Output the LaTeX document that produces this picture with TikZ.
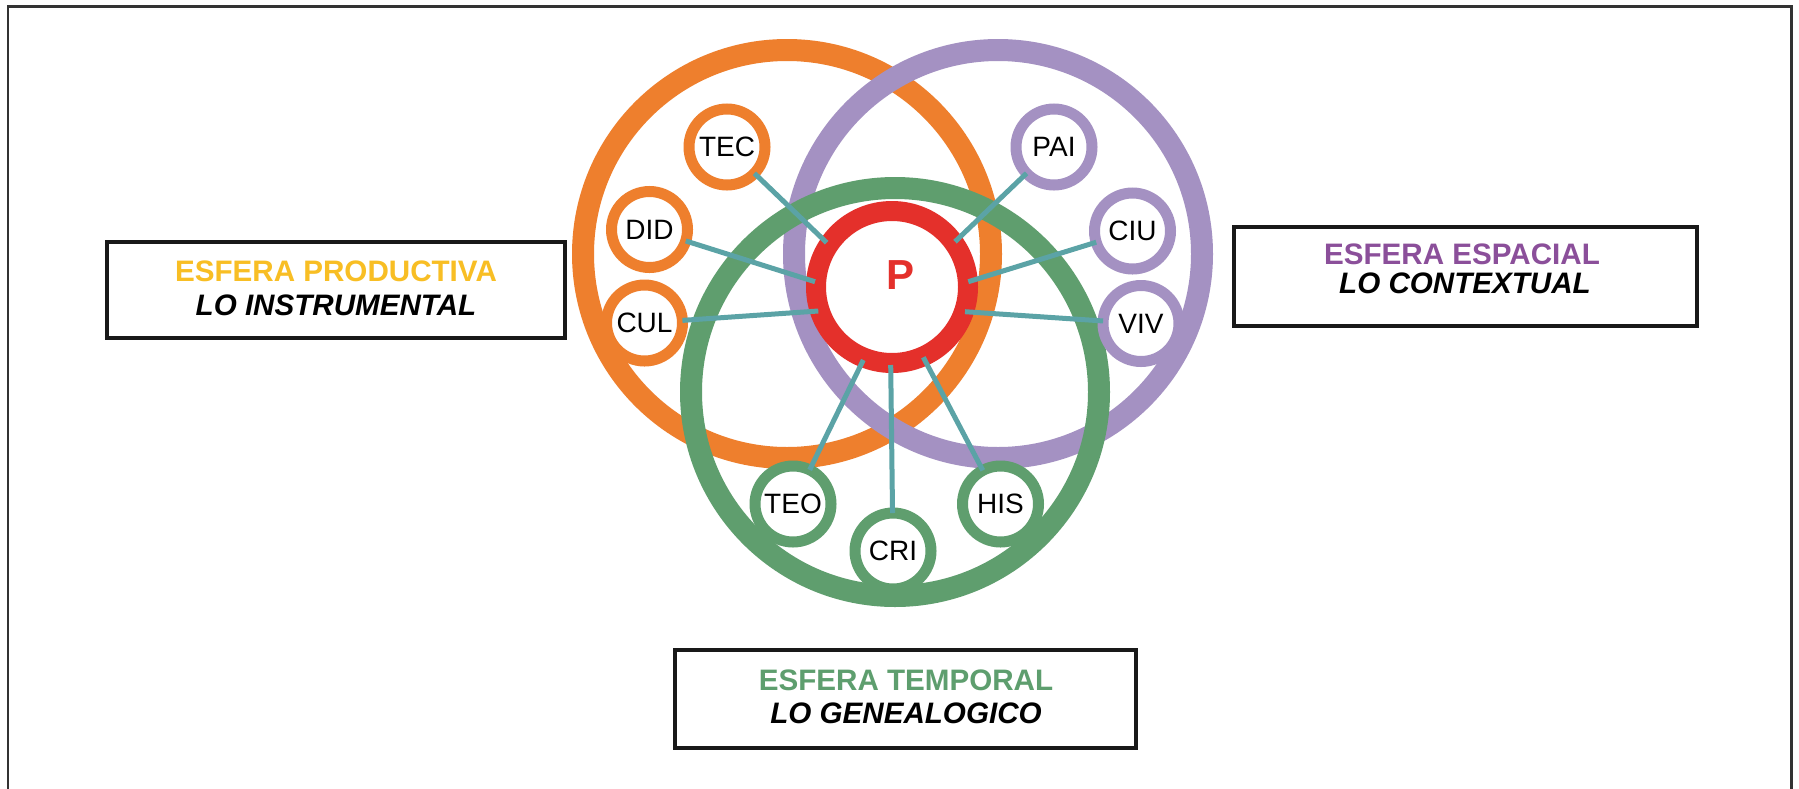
\documentclass[tikz,border=0pt]{standalone}
\usepackage{fontspec}
\setmainfont{Liberation Sans}
\usetikzlibrary{calc}
\definecolor{orng}{HTML}{EE7F2D}
\definecolor{purp}{HTML}{A491C2}
\definecolor{grn}{HTML}{5F9E6E}
\definecolor{redc}{HTML}{E4302B}
\definecolor{tealc}{HTML}{5BA3A6}
\definecolor{yelc}{HTML}{F8BE24}
\definecolor{purtxt}{HTML}{8B4F9A}
\definecolor{grntxt}{HTML}{5E9E6E}
\begin{document}
\begin{tikzpicture}[x=1pt,y=-1pt,
  bigring/.style={draw=#1, line width=22pt},
  sm/.style={circle, draw=#1, line width=11pt, fill=white, minimum size=76pt,
    inner sep=0pt, outer sep=0pt, font=\fontsize{28}{28}\selectfont},
  conn/.style={draw=tealc, line width=5pt},
  boxn/.style={draw=black!90, line width=4pt, inner sep=0pt, outer sep=0pt, fill=white},
  head/.style={font=\bfseries\fontsize{29.6}{29.6}\selectfont, inner sep=0pt},
  sub/.style={font=\bfseries\itshape\fontsize{29.6}{29.6}\selectfont, inner sep=0pt}]
\path[use as bounding box] (0,0) rectangle (1799,788);
\clip (0,0) rectangle (1799,788);
\fill[white] (0,0) rectangle (1799,788);
\draw[line width=2.5pt, draw=black!80] (7.8,6.7) rectangle (1791.3,900);

% big rings
\draw[bigring=orng] (787,254) circle[radius=204pt];
\draw[bigring=purp] (998,254) circle[radius=204pt];
\draw[bigring=grn] (895,392) circle[radius=204pt];

% centre
\node[circle, draw=redc, line width=20pt, fill=white, minimum size=152pt, inner sep=0pt, outer sep=0pt] (p) at (892,287) {};
\node[font=\bfseries\fontsize{42}{42}\selectfont, text=redc, inner sep=0pt] (ptxt) at (900,275) {P};

% small circles
\node[sm=orng] (tec) at (727,147) {TEC};
\node[sm=orng] (did) at (649.5,229.5) {DID};
\node[sm=orng] (cul) at (644.5,323) {CUL};
\node[sm=purp] (pai) at (1054,147) {PAI};
\node[sm=purp] (ciu) at (1132.5,231) {CIU};
\node[sm=purp] (viv) at (1141,323.5) {VIV};
\node[sm=grn] (teo) at (793,504) {TEO};
\node[sm=grn] (cri) at (893,551) {CRI};
\node[sm=grn] (his) at (1000.5,504) {HIS};

% connector ends on the red ring
\coordinate (eTEC) at (826.7,242.7);
\coordinate (ePAI) at (955,241.7);
\coordinate (eDID) at (815,281.7);
\coordinate (eCUL) at (818.3,311);
\coordinate (eCIU) at (968.3,281.7);
\coordinate (eVIV) at (965,311.7);
\coordinate (eTEO) at (863.3,360);
\coordinate (eCRI) at (890.7,365);
\coordinate (eHIS) at (923.3,357.3);

\draw[conn] (tec) -- (eTEC);
\draw[conn] (pai) -- (ePAI);
\draw[conn] (did) -- (eDID);
\draw[conn] (cul) -- (eCUL);
\draw[conn] (ciu) -- (eCIU);
\draw[conn] (viv) -- (eVIV);
\draw[conn] (teo) -- (eTEO);
\draw[conn] (cri) -- (eCRI);
\draw[conn] (his) -- (eHIS);

% boxes
\node[boxn, minimum width=458pt, minimum height=96pt] (bl) at (336,290.3) {};
\node[head, text=yelc] (bl1) at (336,271.7) {ESFERA PRODUCTIVA};
\node[sub] (bl2) at (336,305) {LO INSTRUMENTAL};

\node[boxn, minimum width=463pt, minimum height=99pt] (br) at (1465.3,276.3) {};
\node[head, text=purtxt] (br1) at (1462,254.2) {ESFERA ESPACIAL};
\node[sub] (br2) at (1465,283.3) {LO CONTEXTUAL};

\node[boxn, minimum width=461pt, minimum height=98pt] (bb) at (905.8,699) {};
\node[head, text=grntxt] (bb1) at (906,680) {ESFERA TEMPORAL};
\node[sub] (bb2) at (906,713) {LO GENEALOGICO};
\end{tikzpicture}
\end{document}
